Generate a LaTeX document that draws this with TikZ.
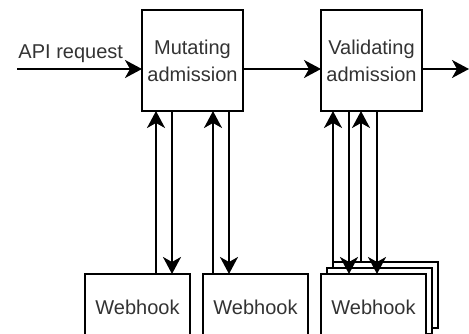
\documentclass[tikz,border=0pt]{standalone}
\usepackage{fontspec}
\setmainfont{Liberation Sans}
\usetikzlibrary{arrows.meta,positioning}

\begin{document}
\begin{tikzpicture}[>={Stealth[length=17pt,width=18pt,inset=5pt]},x=1pt,y=1pt,
                    line width=2pt,node distance=13pt,
                    every node/.style={text=black!80,font=\fontsize{20}{27}\selectfont}]
\tikzstyle{adm}=[rectangle,draw=black,fill=white,minimum size=101pt,inner sep=0pt,outer sep=0pt,align=center]
\tikzstyle{hook}=[rectangle,draw=black,fill=white,minimum width=105pt,minimum height=66pt,inner sep=0pt,outer sep=0pt]

\useasboundingbox (0,0) rectangle (469,334);

\node[adm] (mutating) at (192.5,273.5) {Mutating\\admission};
\node[adm] (validating) [right=78pt of mutating] {Validating\\admission};

\node[hook] (webhook1) [below=163pt of mutating, xshift=-55pt] {Webhook};
\node[hook] (webhook2) [right=of webhook1] {Webhook};
\node[hook] (webhook3c) [right=25pt of webhook2, yshift=12pt] {};
\node[hook] (webhook3b) [right=19pt of webhook2, yshift=6pt] {};
\node[hook] (webhook3) [right=of webhook2] {Webhook};

\coordinate (api) at (17,265);
\coordinate (out) at (469,265);

\draw[->] (api) -- node[pos=0.43,above=2pt] {API request} (mutating.west |- api);
\draw[->] (mutating.east |- api) -- (validating.west |- api);
\draw[->] (validating.east |- out) -- (out);

% mutating <-> webhooks
\draw[->] ([xshift=14pt]mutating.south west |- webhook1.north) -- ([xshift=14pt]mutating.south west);
\draw[->] ([xshift=30pt]mutating.south west) -- ([xshift=30pt]mutating.south west |- webhook1.north);
\draw[->] ([xshift=71pt]mutating.south west |- webhook2.north) -- ([xshift=71pt]mutating.south west);
\draw[->] ([xshift=87pt]mutating.south west) -- ([xshift=87pt]mutating.south west |- webhook2.north);

% validating <-> webhooks
\draw[->] ([xshift=12pt]validating.south west |- webhook3c.north) -- ([xshift=12pt]validating.south west);
\draw[->] ([xshift=28pt]validating.south west) -- ([xshift=28pt]validating.south west |- webhook3.north);
\draw[->] ([xshift=40pt]validating.south west |- webhook3c.north) -- ([xshift=40pt]validating.south west);
\draw[->] ([xshift=56pt]validating.south west) -- ([xshift=56pt]validating.south west |- webhook3.north);
\end{tikzpicture}
\end{document}
